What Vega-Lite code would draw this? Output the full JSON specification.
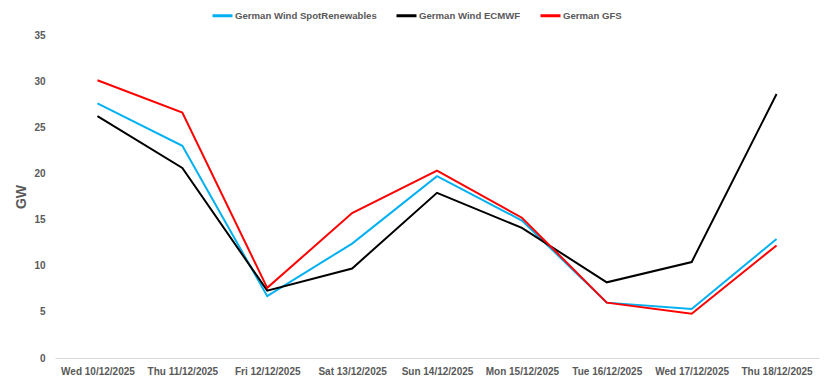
{
  "$schema": "https://vega.github.io/schema/vega-lite/v6.json",
  "autosize": {"type": "none"},
  "width": 764,
  "height": 323,
  "padding": {"left": 55, "top": 35, "right": 9, "bottom": 22},
  "background": "white",
  "config": {
    "view": {"stroke": null},
    "font": "Liberation Sans Narrow, Liberation Sans, sans-serif"
  },
  "data": {
    "values": [
      {"date": "Wed 10/12/2025", "series": "German Wind SpotRenewables", "gw": 27.6},
      {"date": "Thu 11/12/2025", "series": "German Wind SpotRenewables", "gw": 23.0},
      {"date": "Fri 12/12/2025", "series": "German Wind SpotRenewables", "gw": 6.7},
      {"date": "Sat 13/12/2025", "series": "German Wind SpotRenewables", "gw": 12.4},
      {"date": "Sun 14/12/2025", "series": "German Wind SpotRenewables", "gw": 19.7},
      {"date": "Mon 15/12/2025", "series": "German Wind SpotRenewables", "gw": 14.9},
      {"date": "Tue 16/12/2025", "series": "German Wind SpotRenewables", "gw": 6.0},
      {"date": "Wed 17/12/2025", "series": "German Wind SpotRenewables", "gw": 5.3},
      {"date": "Thu 18/12/2025", "series": "German Wind SpotRenewables", "gw": 12.9},
      {"date": "Wed 10/12/2025", "series": "German Wind ECMWF", "gw": 26.2},
      {"date": "Thu 11/12/2025", "series": "German Wind ECMWF", "gw": 20.6},
      {"date": "Fri 12/12/2025", "series": "German Wind ECMWF", "gw": 7.3},
      {"date": "Sat 13/12/2025", "series": "German Wind ECMWF", "gw": 9.7},
      {"date": "Sun 14/12/2025", "series": "German Wind ECMWF", "gw": 17.9},
      {"date": "Mon 15/12/2025", "series": "German Wind ECMWF", "gw": 14.1},
      {"date": "Tue 16/12/2025", "series": "German Wind ECMWF", "gw": 8.2},
      {"date": "Wed 17/12/2025", "series": "German Wind ECMWF", "gw": 10.4},
      {"date": "Thu 18/12/2025", "series": "German Wind ECMWF", "gw": 28.6},
      {"date": "Wed 10/12/2025", "series": "German GFS", "gw": 30.1},
      {"date": "Thu 11/12/2025", "series": "German GFS", "gw": 26.6},
      {"date": "Fri 12/12/2025", "series": "German GFS", "gw": 7.6},
      {"date": "Sat 13/12/2025", "series": "German GFS", "gw": 15.7},
      {"date": "Sun 14/12/2025", "series": "German GFS", "gw": 20.3},
      {"date": "Mon 15/12/2025", "series": "German GFS", "gw": 15.2},
      {"date": "Tue 16/12/2025", "series": "German GFS", "gw": 6.0},
      {"date": "Wed 17/12/2025", "series": "German GFS", "gw": 4.8},
      {"date": "Thu 18/12/2025", "series": "German GFS", "gw": 12.2}
    ]
  },
  "mark": {"type": "line", "strokeWidth": 2},
  "encoding": {
    "x": {
      "field": "date",
      "type": "nominal",
      "sort": null,
      "scale": {"paddingInner": 0, "paddingOuter": 0.5},
      "axis": {
        "title": null,
        "labelAngle": 0,
        "ticks": false,
        "grid": false,
        "domainColor": "#d9d9d9",
        "domainWidth": 1,
        "labelFontSize": 10,
        "labelFontWeight": "bold",
        "labelColor": "#595959",
        "labelPadding": 8
      }
    },
    "y": {
      "field": "gw",
      "type": "quantitative",
      "scale": {"domain": [0, 35], "nice": false},
      "axis": {
        "title": "GW",
        "values": [0, 5, 10, 15, 20, 25, 30, 35],
        "grid": false,
        "domain": false,
        "ticks": false,
        "labelFontSize": 10,
        "labelFontWeight": "bold",
        "labelColor": "#595959",
        "labelPadding": 10,
        "titleFontSize": 14,
        "titleFontWeight": "bold",
        "titleColor": "#595959",
        "titlePadding": 5
      }
    },
    "color": {
      "field": "series",
      "type": "nominal",
      "scale": {
        "domain": ["German Wind SpotRenewables", "German Wind ECMWF", "German GFS"],
        "range": ["#00b0f0", "#000000", "#ff0000"]
      },
      "legend": {
        "title": null,
        "orient": "none",
        "direction": "horizontal",
        "legendX": 156,
        "legendY": -31,
        "symbolType": "stroke",
        "symbolStrokeWidth": 3,
        "symbolSize": 400,
        "labelFontSize": 9.6,
        "labelFontWeight": "bold",
        "labelColor": "#595959",
        "labelOffset": 1,
        "columnPadding": 13
      }
    }
  }
}
